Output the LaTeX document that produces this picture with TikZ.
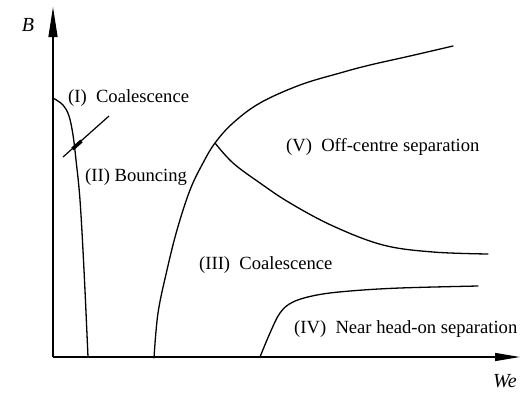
\documentclass[tikz,border=0pt]{standalone}
\usepackage{fontspec}
\setmainfont{Liberation Serif}
\usetikzlibrary{arrows.meta}
\begin{document}
\begin{tikzpicture}[x=1pt,y=-1pt,
  curve/.style={line width=1.3pt, line cap=round},
  axisline/.style={line width=1.3pt},
  lbl/.style={font=\fontsize{18.6}{21}\selectfont, inner sep=0pt, anchor=west},
  axlbl/.style={font=\fontsize{20}{22}\selectfont\itshape, inner sep=0pt}]
\useasboundingbox (0,0) rectangle (520,392);
% axes
\coordinate (O) at (53,357);
\coordinate (ytop) at (53,7);
\coordinate (xend) at (520,357);
\draw[axisline,-{Triangle[length=30pt,width=9pt]}] (O) -- (ytop);
\draw[axisline,-{Triangle[length=25pt,width=8pt]}] (O) -- (xend);
\node[axlbl] (B) at (28,25) {B};
\node[axlbl] (We) at (505,381) {We};
% boundary I/II
\draw[curve] plot[smooth,tension=0.6] coordinates {(53,98) (63,105) (69,116) (73,135) (76,160) (80,200) (84,270) (88,357)};
% tick through boundary
\coordinate (t1) at (63,157);
\coordinate (t2) at (109,116);
\draw[line width=1.2pt] (t1) -- (t2);
\draw[line width=3.6pt] (72.5,149) -- (81.5,141);
% left/upper boundary of III and V
\coordinate (J) at (215,143);
\draw[curve] plot[smooth,tension=0.6] coordinates {(154,358) (158,313) (167,270) (177,230) (190,190) (203,163) (J) (233,123) (260,103) (300,85) (340,73) (370,65) (410,56) (453,46)};
% branch III/V
\draw[curve] plot[smooth,tension=0.6] coordinates {(J) (233,163) (260,183) (290,203) (333,226) (383,245) (433,252) (488,254)};
% boundary III/IV
\draw[curve] plot[smooth,tension=0.6] coordinates {(260,357) (270,333) (280,313) (293,302) (317,295) (350,291) (400,288) (478,286)};
% labels
\node[lbl] (r1) at (68,98) {(I)\ \ Coalescence};
\node[lbl] (r2) at (85,177) {(II) Bouncing};
\node[lbl] (r3) at (199,265) {(III)\ \ Coalescence};
\node[lbl] (r4) at (294,329) {(IV)\ \ Near head-on separation};
\node[lbl] (r5) at (286,147) {(V)\ \ Off-centre separation};
\end{tikzpicture}
\end{document}
